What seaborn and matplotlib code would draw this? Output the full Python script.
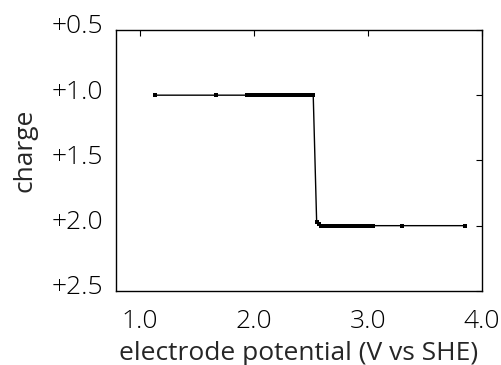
import matplotlib
matplotlib.use("Agg")
import matplotlib.pyplot as plt
import matplotlib.transforms as mtransforms
import seaborn as sns
import pandas as pd

sns.set_theme(style="white")
plt.rcParams["font.family"] = ["Open Sans", "DejaVu Sans"]
plt.rcParams["font.weight"] = "light"

# electrode potential (V vs SHE) and charge
potential = [1.13, 1.67,
             1.94, 1.96, 1.98, 2.00, 2.02, 2.04, 2.06, 2.08, 2.10, 2.12, 2.14,
             2.16, 2.18, 2.20, 2.22, 2.24, 2.26, 2.28, 2.30, 2.32, 2.34, 2.36,
             2.38, 2.40, 2.42, 2.44, 2.46, 2.48, 2.50, 2.52,
             2.55, 2.57,
             2.59, 2.61, 2.63, 2.65, 2.67, 2.69, 2.71, 2.73, 2.75, 2.77, 2.79,
             2.81, 2.83, 2.85, 2.87, 2.89, 2.91, 2.93, 2.95, 2.97, 2.99, 3.01,
             3.03, 3.04,
             3.30, 3.85]
charge = [1.0] * 32 + [1.97, 1.99] + [2.0] * 24 + [2.0, 2.0]

x_ticks = [1.0, 2.0, 3.0, 4.0]
x_labels = ["1.0", "2.0", "3.0", "4.0"]
y_ticks = [0.5, 1.0, 1.5, 2.0, 2.5]
y_labels = ["+0.5", "+1.0", "+1.5", "+2.0", "+2.5"]

df = pd.DataFrame({"potential": potential, "charge": charge})

fig = plt.figure(figsize=(5.01, 3.65), dpi=100)
ax = fig.add_axes([0.2315, 0.203, 0.7305, 0.715])
sns.lineplot(data=df, x="potential", y="charge", sort=False, estimator=None,
             color="black", linewidth=1.0, marker="s", markersize=3,
             markeredgewidth=0, ax=ax)

ax.set_xlim(0.79, 4.0)
ax.set_ylim(2.5, 0.5)
ax.set_xticks(x_ticks)
ax.set_xticklabels(x_labels)
ax.set_yticks(y_ticks)
ax.set_yticklabels(y_labels)
ax.tick_params(direction="in", length=4, width=0.8, colors="black",
               labelsize=19, top=True, right=True)
ax.tick_params(axis="x", pad=13)
ax.tick_params(axis="y", pad=9)
# y tick labels sit a little above their ticks in the original
shift = mtransforms.ScaledTranslation(0, 0.06, fig.dpi_scale_trans)
for lab in ax.get_yticklabels():
    lab.set_transform(lab.get_transform() + shift)
for s in ax.spines.values():
    s.set_color("black")
    s.set_linewidth(1.0)
ax.set_xlabel("electrode potential (V vs SHE)", fontsize=19, labelpad=5)
ax.set_ylabel("charge", fontsize=19)
ax.yaxis.set_label_coords(-0.215, 0.54)

fig.savefig("out.png", dpi=100)
